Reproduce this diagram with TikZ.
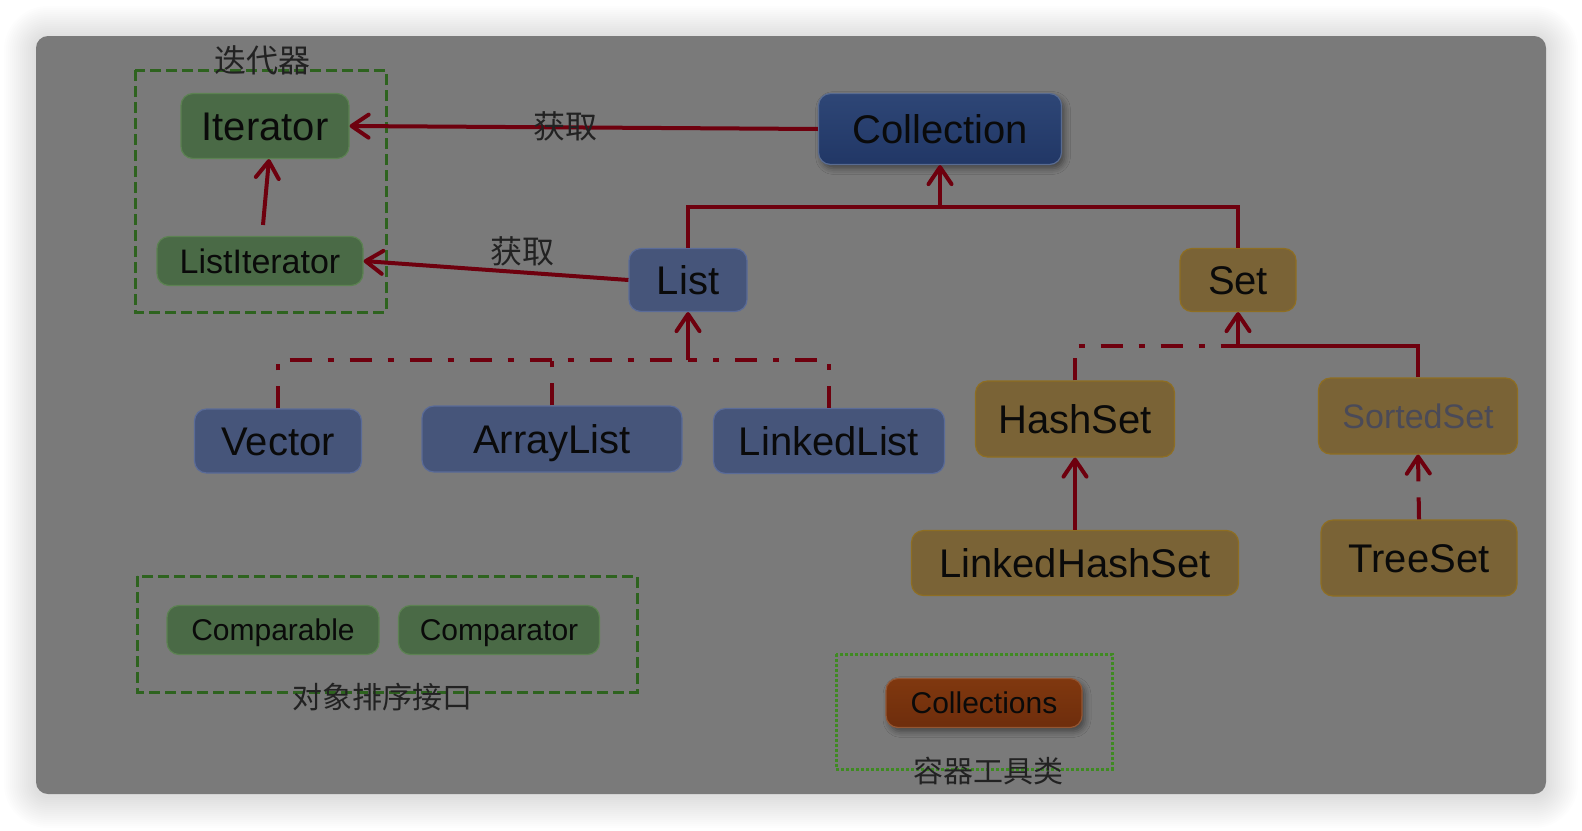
\documentclass[tikz,border=0pt]{standalone}
\usepackage{fontspec}
\setmainfont{Liberation Sans}
\newfontfamily\cjk{Noto Sans CJK SC}
\usetikzlibrary{arrows.meta,shadows.blur,calc}
\definecolor{panelc}{HTML}{7A7A7A}
\definecolor{gfill}{HTML}{4A6A46}
\definecolor{gdraw}{HTML}{5C8252}
\definecolor{bfill}{HTML}{46557A}
\definecolor{bdraw}{HTML}{5A6B98}
\definecolor{ctop}{HTML}{2E4676}
\definecolor{cbot}{HTML}{213766}
\definecolor{yfill}{HTML}{7A6336}
\definecolor{ydraw}{HTML}{8E6E22}
\definecolor{otop}{HTML}{80380F}
\definecolor{obot}{HTML}{6E2D0C}
\definecolor{lred}{HTML}{6E000E}
\definecolor{gdash}{HTML}{2E631F}
\definecolor{gdot}{HTML}{3F8A22}
\definecolor{txt}{HTML}{0A0A0A}
\definecolor{stxt}{HTML}{4A4A58}
\begin{document}
\begin{tikzpicture}[x=0.5pt,y=-0.5pt,
  box/.style={draw, rounded corners=6pt, line width=0.6pt, inner sep=0pt,
    text=txt, text depth=0pt, bigfont},
  bigfont/.style={font=\fontsize{20}{24}\selectfont, text height=14.3pt},
  smallfont/.style={font=\fontsize{17}{20}\selectfont, text height=12.2pt},
  tinyfont/.style={font=\fontsize{15}{18}\selectfont, text height=10.7pt},
  gbox/.style={box, fill=gfill, draw=gdraw},
  bbox/.style={box, fill=bfill, draw=bdraw},
  ybox/.style={box, fill=yfill, draw=ydraw},
  wline/.style={draw=lred, line width=2pt},
  conn/.style={wline, -{Straight Barb[length=8.5pt,width=11.5pt,line cap=round,line join=round]}},
  ddot/.style={dash pattern=on 11pt off 8pt on 3pt off 8pt},
  dsh/.style={dash pattern=on 11pt off 8pt},
  grp/.style={draw=gdash, line width=1.5pt, dash pattern=on 5.5pt off 2.5pt},
  cjklab/.style={text=txt!90, font=\cjk\fontsize{16}{18}\selectfont, inner sep=0pt},
  cjksmall/.style={text=txt!90, font=\cjk\fontsize{15}{18}\selectfont, inner sep=0pt}
]
\useasboundingbox (0,0) rectangle (1582,830);
\fill[white] (0,0) rectangle (1582,830);
\foreach \i in {1,...,16}{
  \fill[black, opacity=0.009, rounded corners={6pt+\i*1pt}]
    ({36-2*\i},{38-2*\i}) rectangle ({1546+2*\i},{796+2*\i});
}
\fill[panelc, rounded corners=6pt] (36,36) rectangle (1546,794);

% group boxes
\draw[grp] (135,70) rectangle (386,312);
\draw[grp] (137,576) rectangle (637,692);
\draw[draw=gdot, line width=1.5pt, dash pattern=on 1.5pt off 1pt] (836,654) rectangle (1112,769);

% nodes
\node[gbox, minimum width=84pt, minimum height=32.5pt] (iter) at (265,126) {Iterator};
\node[gbox, smallfont, minimum width=103pt, minimum height=24.5pt] (litr) at (260,261) {ListIterator};
\node[box, draw=ctop!80!white, top color=ctop, bottom color=cbot, minimum width=121.5pt, minimum height=35.5pt,
  blur shadow={shadow xshift=1.5pt, shadow yshift=-2pt, shadow blur radius=3pt, shadow opacity=45}] (coll) at (940,129) {Collection};
\node[bbox, minimum width=59pt, minimum height=31.5pt] (list) at (688,280) {List};
\node[ybox, minimum width=58pt, minimum height=31.5pt] (set) at (1238,280) {Set};
\node[bbox, minimum width=83.5pt, minimum height=32pt] (vec) at (278,441) {Vector};
\node[bbox, minimum width=130pt, minimum height=33pt] (arr) at (552,439) {ArrayList};
\node[bbox, minimum width=115.5pt, minimum height=32.5pt] (lnk) at (829,441) {LinkedList};
\node[ybox, minimum width=99.5pt, minimum height=38pt] (hs) at (1075,419) {HashSet};
\node[ybox, smallfont, text=stxt, minimum width=99.5pt, minimum height=38pt] (ss) at (1418,416) {SortedSet};
\node[ybox, minimum width=163.5pt, minimum height=32.5pt] (lhs) at (1075,563) {LinkedHashSet};
\node[ybox, minimum width=98pt, minimum height=38pt] (ts) at (1419,558) {TreeSet};
\node[gbox, tinyfont, minimum width=106pt, minimum height=24.5pt] (cmpb) at (273,630) {Comparable};
\node[gbox, tinyfont, minimum width=100.5pt, minimum height=24.5pt] (cmpt) at (499,630) {Comparator};
\node[box, tinyfont, draw=otop!85!white, top color=otop, bottom color=obot, minimum width=98pt, minimum height=24.5pt,
  blur shadow={shadow xshift=1.5pt, shadow yshift=-2pt, shadow blur radius=3pt, shadow opacity=45}] (colls) at (984,703) {Collections};

% junctions
\coordinate (cj) at (940,207);
\coordinate (lj) at (688,360);
\coordinate (sj) at (1238,346);

% connectors
\draw[conn] (coll.west) -- (iter.east);
\draw[conn, shorten <=5.5pt] ([xshift=1pt]litr.north) -- ([xshift=2pt]iter.south);
\draw[conn] (list.west) -- (litr.east);
\draw[wline] (list.north) |- (cj) -| (set.north);
\draw[conn] (cj) -- (coll.south);
\draw[wline, ddot] (vec.north) |- (lj);
\draw[wline, ddot] (lnk.north) |- (lj);
\draw[wline, ddot] (arr.north) -- (arr.north |- lj);
\draw[conn] (lj) -- (list.south);
\draw[wline, ddot] (hs.north) |- (sj);
\draw[wline] (ss.north) |- (sj);
\draw[conn] (sj) -- (set.south);
\draw[conn] (lhs.north) -- (hs.south);
\draw[conn, dsh] (ts.north) -- (ss.south);

% labels
\node[cjklab] (l1) at (262,60) {迭代器};
\node[cjklab] (l2) at (565,126) {获取};
\node[cjklab] (l3) at (522,251) {获取};
\node[cjksmall] (l4) at (382,697) {对象排序接口};
\node[cjksmall] (l5) at (988,771) {容器工具类};
\end{tikzpicture}
\end{document}
